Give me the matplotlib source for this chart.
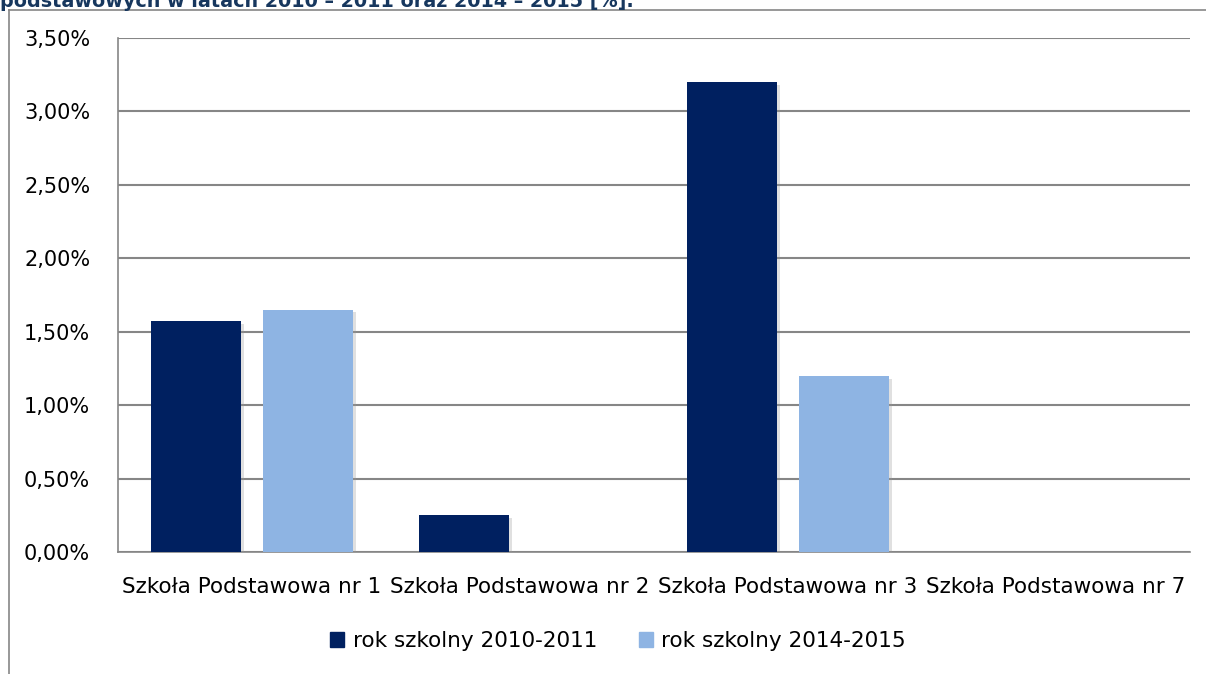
import matplotlib.pyplot as plt
import matplotlib.patheffects as pe
from matplotlib.ticker import FuncFormatter
from matplotlib.lines import Line2D
import numpy as np

plt.rcParams['font.family'] = ['DejaVu Sans']

schools = ['Szkoła Podstawowa nr 1', 'Szkoła Podstawowa nr 2',
           'Szkoła Podstawowa nr 3', 'Szkoła Podstawowa nr 7']
series_names = ['rok szkolny 2010-2011', 'rok szkolny 2014-2015']
vals_2010 = [1.57, 0.25, 3.20, 0.0]
vals_2014 = [1.65, 0.0, 1.20, 0.0]
title_text = 'podstawowych w latach 2010 – 2011 oraz 2014 – 2015 [%].'

dark = '#002060'
light = '#8EB4E3'
fs = 15.5

W, H = 1206, 674
fig = plt.figure(figsize=(W / 100, H / 100), dpi=100)
ax = fig.add_axes([118 / W, 1 - 552 / H, (1190 - 118) / W, (552 - 38) / H])

x = np.arange(len(schools))
bw = 0.336
shadow = [pe.SimplePatchShadow(offset=(2, -2), shadow_rgbFace='#999999', alpha=0.3), pe.Normal()]
for vals, off, col in [(vals_2010, -0.209, dark), (vals_2014, 0.209, light)]:
    bars = ax.bar(x + off, vals, width=bw, color=col, zorder=3)
    for b in bars:
        if b.get_height() > 0:
            b.set_path_effects(shadow)

ax.set_xlim(-0.5, 3.5)
ax.set_ylim(0, 3.5)
ax.set_yticks(np.arange(0, 3.51, 0.5))
ax.yaxis.set_major_formatter(FuncFormatter(lambda v, p: f'{v:.2f}%'.replace('.', ',')))
ax.grid(axis='y', color='#868686', linewidth=1.5, zorder=0)
ax.set_xticks(x)
ax.set_xticklabels(schools)
ax.tick_params(axis='x', length=0, pad=18, labelsize=fs)
ax.tick_params(axis='y', length=0, pad=20, labelsize=15)
for s in ['top', 'right']:
    ax.spines[s].set_visible(False)
for s in ['left', 'bottom']:
    ax.spines[s].set_color('#868686')
    ax.spines[s].set_linewidth(1.2)

# outer frame (left and top edge)
fig.add_artist(Line2D([9 / W, 9 / W], [0, 1 - 10 / H], color='#868686', lw=1.2))
fig.add_artist(Line2D([9 / W, 1], [1 - 10 / H, 1 - 10 / H], color='#868686', lw=1.2))

# caption at the top, partly cut off as in the source page
fig.text(0 / W, 1 - 7 / H, title_text, color='#17375E', fontsize=13.8, fontweight='bold',
         va='baseline', ha='left')

# legend
handles = [plt.Rectangle((0, 0), 1, 1, color=dark), plt.Rectangle((0, 0), 1, 1, color=light)]
fig.legend(handles, series_names, loc='center', bbox_to_anchor=(618 / W, 1 - 641 / H),
           ncol=2, frameon=False, fontsize=fs, handlelength=0.65, handleheight=0.65,
           handletextpad=0.4, columnspacing=1.95)

fig.savefig('out.png', dpi=100)
